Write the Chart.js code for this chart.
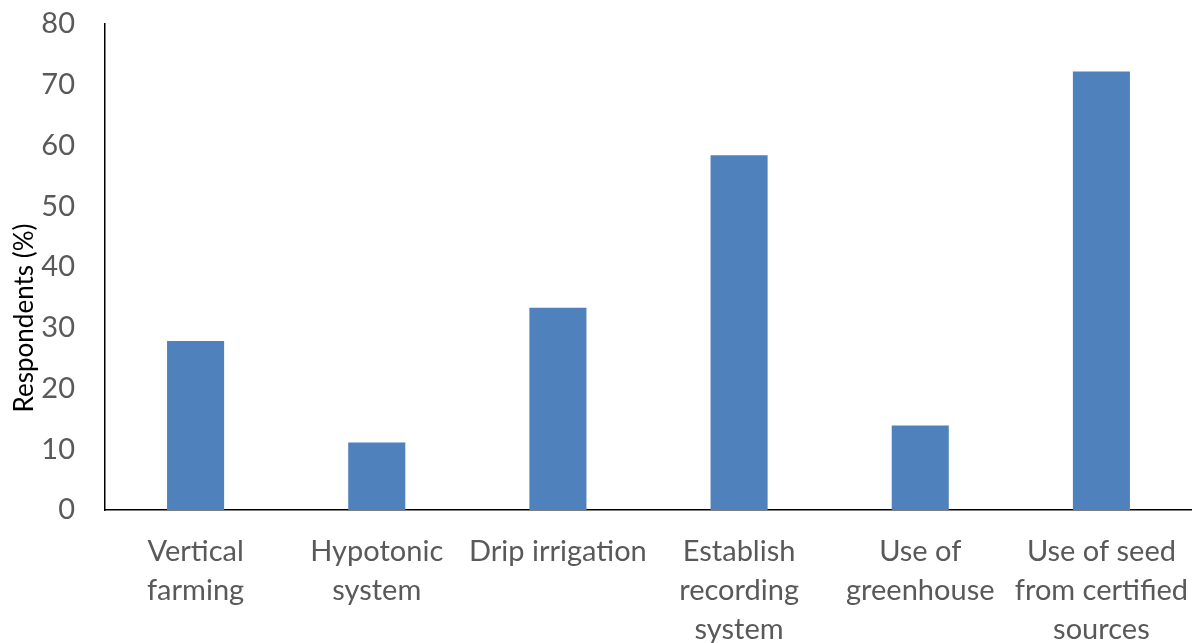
<!DOCTYPE html>
<html>
<head>
<meta charset="utf-8">
<script src="https://cdn.jsdelivr.net/npm/chart.js@4.4.0/dist/chart.umd.min.js"></script>
<style>
  html, body { margin: 0; padding: 0; background: #fff; }
  #wrap { width: 1192px; height: 643px; }
</style>
</head>
<body>
<div id="wrap"><canvas id="chart"></canvas></div>
<script>
// chart data
const categories = [
    ["Vertical", "farming"],
    ["Hypotonic", "system"],
    "Drip irrigation",
    ["Establish", "recording", "system"],
    ["Use of", "greenhouse"],
    ["Use of seed", "from certified", "sources"]
];
const respondents = [27.8, 11.1, 33.3, 58.4, 13.9, 72.2];
const yTicks = [0, 10, 20, 30, 40, 50, 60, 70, 80];
const yTitle = "Respondents (%)";

const fontFamily = "Lato, 'Open Sans', sans-serif";

// y axis title, drawn a bit lower like the original
const yTitlePlugin = {
    id: "yTitle",
    afterDraw(chart) {
        const ctx = chart.ctx;
        ctx.save();
        ctx.translate(25, 318);
        ctx.rotate(-Math.PI / 2);
        ctx.font = "26px " + fontFamily;
        ctx.fillStyle = "#000";
        ctx.textAlign = "center";
        ctx.textBaseline = "middle";
        ctx.fillText(yTitle, 0, 0);
        ctx.restore();
    }
};

const ctx = document.getElementById("chart").getContext("2d");

new Chart(ctx, {
    type: "bar",
    data: {
        labels: categories,
        datasets: [
            {
                label: yTitle,
                data: respondents,
                backgroundColor: "#4F81BD",
                borderWidth: 0,
                barPercentage: 0.315,
                categoryPercentage: 1.0,
            },
        ],
    },
    options: {
        responsive: true,
        maintainAspectRatio: false,
        animation: false,
        layout: {
            padding: { top: 24, right: -6, left: 0, bottom: 0 },
        },
        plugins: {
            legend: { display: false },
            tooltip: { enabled: false },
        },
        scales: {
            y: {
                min: 0,
                max: 80,
                afterBuildTicks: (scale) => {
                    scale.ticks = yTicks.map((v) => ({ value: v }));
                },
                afterFit: (scale) => {
                    scale.width = 105;
                    scale.paddingTop = 0;
                    scale.paddingBottom = 0;
                },
                grid: { display: false, drawTicks: false },
                border: { display: true, color: "#000", width: 1.5 },
                ticks: {
                    color: "#595959",
                    padding: 30,
                    font: { size: 29, family: fontFamily },
                },
            },
            x: {
                afterFit: (scale) => {
                    scale.height = 133;
                    scale.paddingLeft = 0;
                    scale.paddingRight = 0;
                },
                grid: { display: false, drawTicks: false },
                border: { display: true, color: "#000", width: 1.5 },
                ticks: {
                    color: "#595959",
                    padding: 22,
                    maxRotation: 0,
                    autoSkip: false,
                    font: { size: 29, family: fontFamily, lineHeight: 1.345 },
                },
            },
        },
    },
    plugins: [yTitlePlugin],
});
</script>
</body>
</html>
